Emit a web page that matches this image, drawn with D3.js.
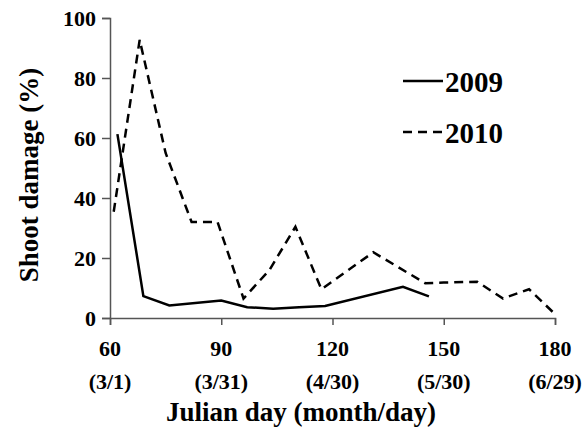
<!DOCTYPE html>
<html>
<head>
<meta charset="utf-8">
<script src="https://cdnjs.cloudflare.com/ajax/libs/d3/7.8.5/d3.min.js"></script>
<style>
  body { margin: 0; background: #fff; }
</style>
</head>
<body>
<svg id="chart" width="585" height="429"></svg>
<script>
// values
var days2009 = [62, 69, 76, 90, 97, 104, 111, 118, 139, 146];
var dmg2009  = [61.3, 7.3, 4.2, 5.8, 3.6, 3.1, 3.6, 4.0, 10.4, 7.2];
var days2010 = [61, 68, 75, 82, 89, 96, 103, 110, 117, 131, 145, 150, 159, 166, 173, 180];
var dmg2010  = [35.4, 92.7, 55, 32, 32, 6.5, 16, 30.4, 9.6, 21.9, 11.6, 11.8, 12.1, 6.5, 9.6, 1.3];
var xTicks = [60, 90, 120, 150, 180];
var xDates = ['(3/1)', '(3/31)', '(4/30)', '(5/30)', '(6/29)'];
var yTicks = [0, 20, 40, 60, 80, 100];

var FONT = "'Liberation Serif', 'DejaVu Serif', serif";

var svg = d3.select('#chart');
var x = d3.scaleLinear().domain([60, 180]).range([110, 555]);
var y = d3.scaleLinear().domain([0, 100]).range([318, 18]);

var toPts = function(days, vals) {
    return days.map(function(d, i) { return [d, vals[i]]; });
};
var line = d3.line()
    .x(function(d) { return x(d[0]); })
    .y(function(d) { return y(d[1]); });

// axes
var yAxis = svg.append('g')
    .attr('transform', 'translate(110,0)')
    .call(d3.axisLeft(y).tickValues(yTicks).tickSize(8).tickPadding(6).tickFormat(d3.format('d')));
var xAxis = svg.append('g')
    .attr('transform', 'translate(0,318)')
    .call(d3.axisBottom(x).tickValues(xTicks).tickSize(7).tickFormat(''));
[yAxis, xAxis].forEach(function(a) {
    a.attr('font-family', null).style('font-family', FONT).attr('font-weight', 'bold');
    a.select('.domain').attr('stroke', '#555').attr('stroke-width', 1.5);
    a.selectAll('.tick line').attr('stroke', '#555').attr('stroke-width', 1.5);
});
yAxis.selectAll('.tick text').attr('font-size', 22).attr('fill', '#000');

var txt = function(sel) {
    return sel.append('text').style('font-family', FONT).attr('font-weight', 'bold').attr('fill', '#000');
};

// two-line x labels
var xl = svg.append('g').selectAll('g').data(xTicks).enter().append('g')
    .attr('transform', function(d) { return 'translate(' + x(d) + ',0)'; });
txt(xl).attr('y', 356).attr('text-anchor', 'middle').attr('font-size', 22)
    .text(function(d) { return d; });
txt(xl).attr('y', 389).attr('text-anchor', 'middle').attr('font-size', 22)
    .text(function(d, i) { return xDates[i]; });

// axis titles
txt(svg).attr('x', 301).attr('y', 421).attr('text-anchor', 'middle')
    .attr('font-size', 27).text('Julian day (month/day)');
txt(svg).attr('transform', 'translate(38,175) rotate(-90)')
    .attr('text-anchor', 'middle').attr('font-size', 27).text('Shoot damage (%)');

// series
svg.append('path').datum(toPts(days2009, dmg2009))
    .attr('d', line).attr('fill', 'none').attr('stroke', '#000').attr('stroke-width', 2.5);
svg.append('path').datum(toPts(days2010, dmg2010))
    .attr('d', line).attr('fill', 'none').attr('stroke', '#000').attr('stroke-width', 2.5)
    .attr('stroke-dasharray', '9,6');

// legend
var legend = [{ label: '2009', dash: null, cy: 81 }, { label: '2010', dash: '9,6', cy: 132 }];
var lg = svg.append('g').selectAll('g').data(legend).enter().append('g');
lg.append('line').attr('x1', 403).attr('x2', 443)
    .attr('y1', function(d) { return d.cy; }).attr('y2', function(d) { return d.cy; })
    .attr('stroke', '#000').attr('stroke-width', 2.5)
    .attr('stroke-dasharray', function(d) { return d.dash; });
txt(lg).attr('x', 445).attr('y', function(d) { return d.cy + 11; })
    .attr('font-size', 29).text(function(d) { return d.label; });
</script>
</body>
</html>
